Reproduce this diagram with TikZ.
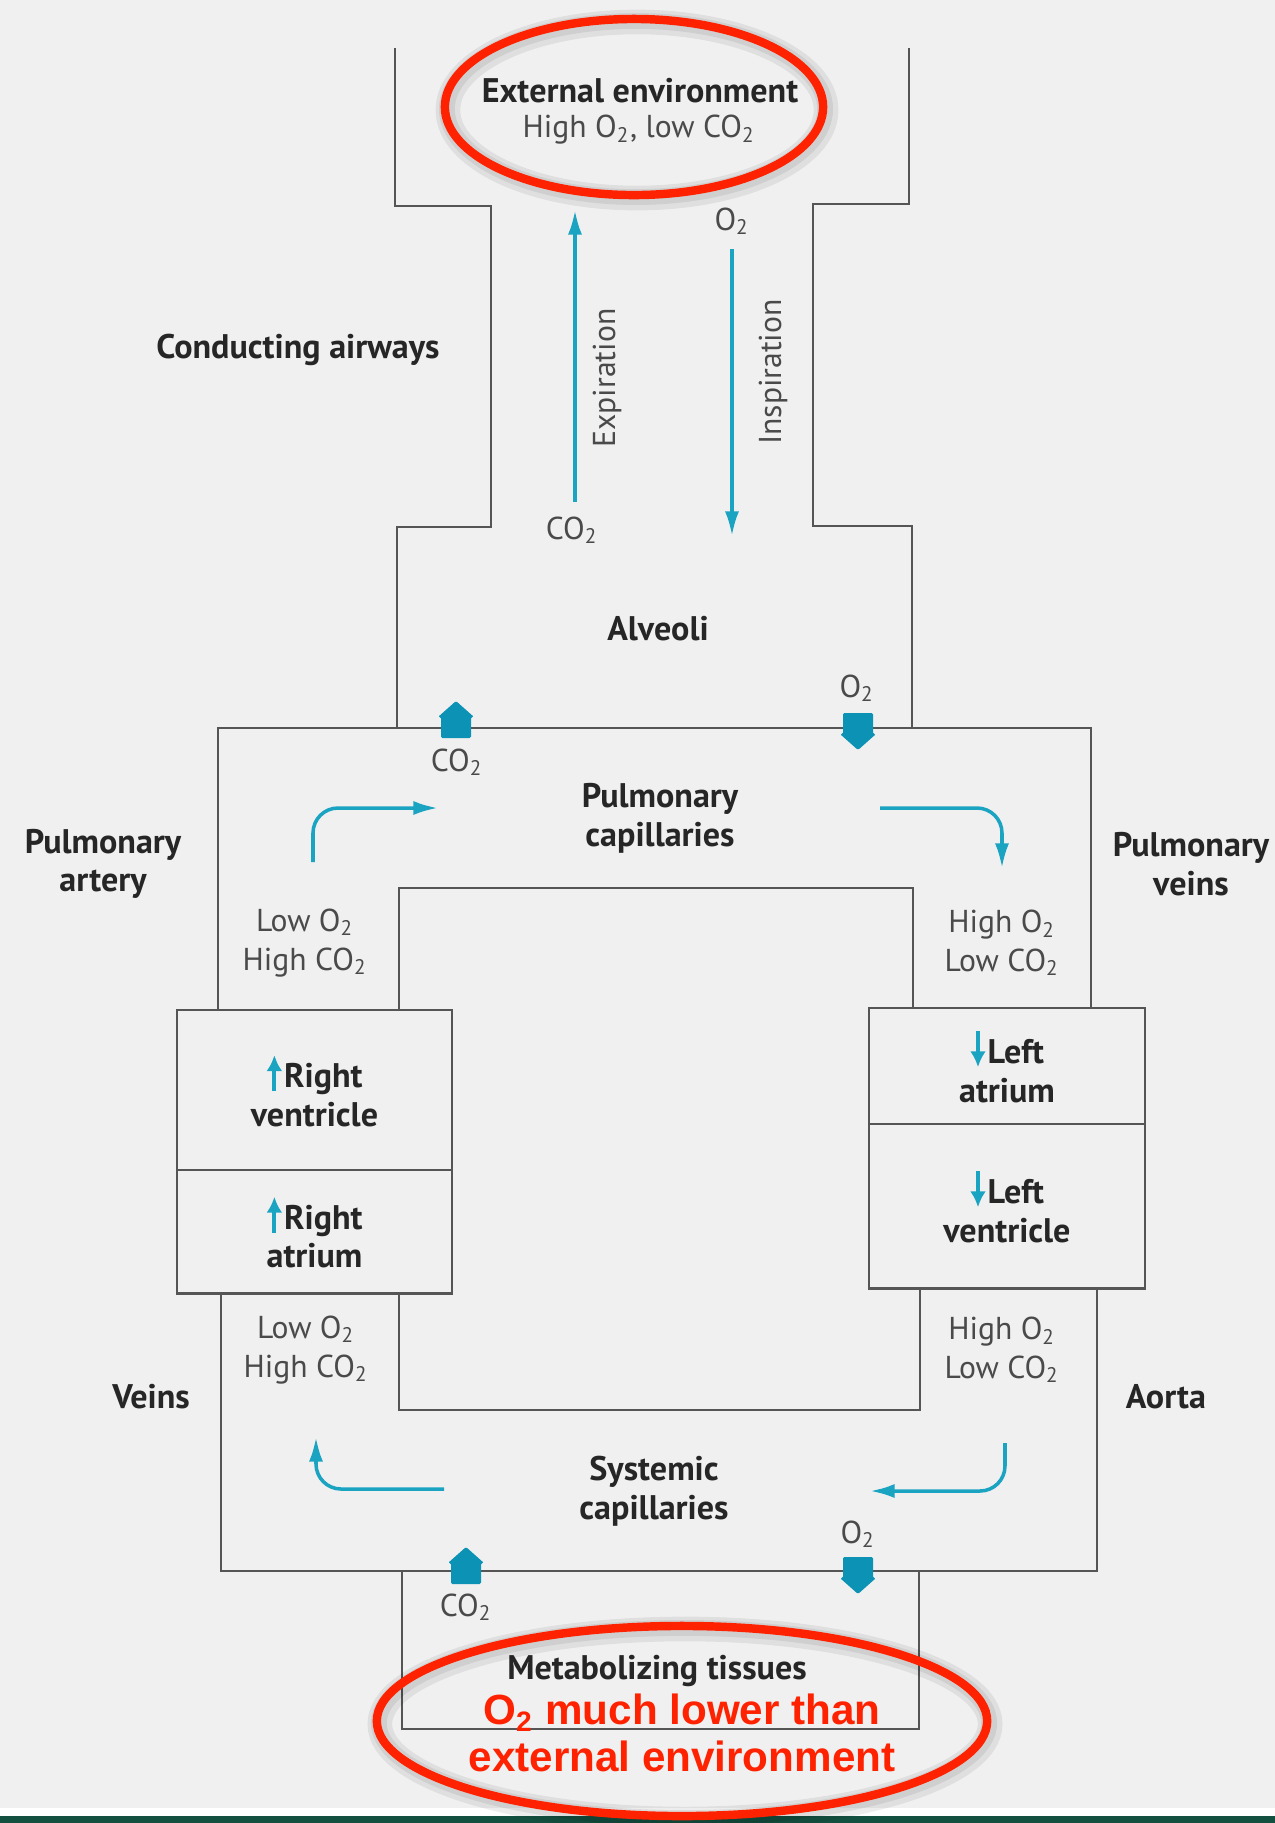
\documentclass[tikz,border=0pt]{standalone}
\usepackage{fontspec}
\setmainfont{PT Sans}
\newfontfamily\notefont{Liberation Sans}
\usetikzlibrary{positioning, arrows.meta}
\definecolor{paper}{HTML}{F0F0F0}
\definecolor{wallgray}{HTML}{555555}
\definecolor{flowcyan}{HTML}{1BA3C2}
\definecolor{gascyan}{HTML}{0C92B5}
\definecolor{ringred}{HTML}{FF2200}
\definecolor{bandgreen}{HTML}{145040}
\definecolor{darktext}{HTML}{262626}
\definecolor{softtext}{HTML}{4A4A4A}
\newcommand{\otwo}{O\textsubscript{2}}
\newcommand{\cotwo}{CO\textsubscript{2}}
\newcommand{\flowup}{\tikz[baseline=0pt,x=1pt,y=1pt]\draw[draw=flowcyan,line width=1.1pt,-{Latex[length=4.5pt,width=4.5pt]}] (0,-1)--(0,9.2);\hspace{0.5pt}}
\newcommand{\flowdown}{\tikz[baseline=0pt,x=1pt,y=1pt]\draw[draw=flowcyan,line width=1.1pt,-{Latex[length=4.5pt,width=4.5pt]}] (0,9.2)--(0,-1);\hspace{0.5pt}}
\tikzset{
	wall/.style={draw=wallgray, line width=0.8pt},
	chamber/.style={
		wall,
		align=center,
		inner sep=0pt,
		outer sep=0pt,
		font=\fontsize{9.7}{11}\selectfont\bfseries,
		text=darktext,
	},
	flow/.style={draw=flowcyan, line width=1pt, -{Latex[length=7pt,width=4pt]}},
	bloodflow/.style={flow, rounded corners=2.5mm},
	title/.style={
		align=center,
		inner sep=0pt,
		font=\fontsize{9.7}{11}\selectfont\bfseries,
		text=darktext,
	},
	gas/.style={
		align=center,
		inner sep=0pt,
		font=\fontsize{9}{11}\selectfont,
		text=softtext,
	},
	ring/.style={draw=ringred, line width=2.4pt},
	ringshadow/.style={draw=black, opacity=0.07},
	note/.style={
		align=center,
		inner sep=0pt,
		font=\notefont\fontsize{12}{13.2}\selectfont\bfseries,
		text=ringred,
	},
	gasup/.pic={
		\fill[gascyan, rounded corners=0.4pt] (-15,18) -- (-15,-3) -- (-18,-3) -- (0,-19) -- (18,-3) -- (15,-3) -- (15,18) -- cycle;
	},
	gasdown/.pic={
		\fill[gascyan, rounded corners=0.4pt] (-15,-18) -- (-15,3) -- (-18,3) -- (0,19) -- (18,3) -- (15,3) -- (15,-18) -- cycle;
	},
}

\begin{document}
\begin{tikzpicture}[x=0.01cm, y=-0.01cm]

\fill[paper] (0,0) rectangle (1275,1823);
\useasboundingbox (0,0) rectangle (1275,1823);

% airways and alveoli
\draw[wall] (395,48) -- (395,206) -- (491,206) -- (491,527) -- (397,527) -- (397,728);
\draw[wall] (909,48) -- (909,204) -- (813,204) -- (813,526) -- (912,526) -- (912,728);

% heart chambers
\node(rv)[chamber, minimum width=2.75cm, minimum height=1.6cm] at (314.5,1090) {\flowup Right\\ventricle};
\node(ra)[chamber, minimum width=2.75cm, minimum height=1.23cm, below=0pt of rv] {\flowup Right\\atrium};
\node(la)[chamber, minimum width=2.76cm, minimum height=1.16cm] at (1007,1066) {\flowdown Left\\atrium};
\node(lv)[chamber, minimum width=2.76cm, minimum height=1.64cm, below=0pt of la] {\flowdown Left\\ventricle};

% pulmonary loop
\draw[wall] (218,1010) -- (218,728) -- (1091,728) -- (1091,1008);
\draw[wall] (399,1010) -- (399,888) -- (913,888) -- (913,1008);

% systemic loop
\draw[wall] (221,1293) -- (221,1571) -- (1097,1571) -- (1097,1288);
\draw[wall] (399,1293) -- (399,1410) -- (920,1410) -- (920,1288);

% metabolizing tissues
\draw[wall] (402,1571) -- (402,1729) -- (919,1729) -- (919,1571);

% labels
\node(ext)[title] at (640,91) {External environment};
\node(extgas)[gas] at (639,130) {High \otwo, low \cotwo};
\node(airway)[title] at (298,350) {Conducting airways};
\node(co2out)[gas] at (572,530) {\cotwo};
\node(o2in)[gas] at (732,221) {\otwo};
\node(expir)[gas, rotate=90] at (607,378) {Expiration};
\node(inspir)[gas, rotate=90] at (773,372) {Inspiration};
\node(alv)[title] at (658,629) {Alveoli};
\node(o2alv)[gas] at (857,688) {\otwo};
\node(co2alv)[gas] at (457,762) {\cotwo};
\node(pcap)[title] at (660,818) {Pulmonary\\capillaries};
\node(partery)[title] at (103,864) {Pulmonary\\artery};
\node(pveins)[title] at (1191,864) {Pulmonary\\veins};
\node(lowtop)[gas] at (305,943) {Low \otwo\\High \cotwo};
\node(hightop)[gas] at (1002,943) {High \otwo\\Low \cotwo};
\node(lowbot)[gas] at (306,1350) {Low \otwo\\High \cotwo};
\node(highbot)[gas] at (1002,1350) {High \otwo\\Low \cotwo};
\node(veins)[title] at (151,1397) {Veins};
\node(aorta)[title] at (1166,1397) {Aorta};
\node(scap)[title] at (654,1491) {Systemic\\capillaries};
\node(o2tis)[gas] at (858,1534) {\otwo};
\node(co2tis)[gas] at (466,1607) {\cotwo};
\node(tissue)[title] at (657,1671) {Metabolizing tissues};

% breathing
\coordinate(exptip) at (575,210);
\coordinate(insptip) at (732,536);
\draw[flow] ([yshift=4pt]co2out.north -| exptip) -- (exptip);
\draw[flow] ([yshift=-4pt]o2in.south -| insptip) -- (insptip);

% gas exchange
\pic at (456,720) {gasup};
\pic at (858,731) {gasdown};
\pic at (466,1566) {gasup};
\pic at (858,1575) {gasdown};

% blood flow
\coordinate(pa) at (313,862);
\coordinate(pc1) at (438,808);
\coordinate(pc2) at (880,808);
\coordinate(pv) at (1002,868);
\coordinate(ao) at (1005,1443);
\coordinate(sc1) at (870,1491);
\coordinate(sc2) at (444,1489);
\coordinate(vn) at (316,1437);
\draw[bloodflow] (pa) |- (pc1);
\draw[bloodflow] (pc2) -| (pv);
\draw[bloodflow] (ao) |- (sc1);
\draw[bloodflow] (sc2) -| (vn);

% bottom band
\fill[white] (0,1808) rectangle (1275,1816);
\fill[bandgreen] (0,1816) rectangle (1275,1823);

% highlights
\foreach \w/\d in {7pt/3, 4.5pt/2}
	\draw[ringshadow, line width=\w] (634+\d,107+\d) ellipse [x radius=1.89cm, y radius=0.88cm];
\draw[ring] (634,107) ellipse [x radius=1.89cm, y radius=0.88cm];
\foreach \w/\d in {7pt/3, 4.5pt/2}
	\draw[ringshadow, line width=\w] (682+\d,1721+\d) ellipse [x radius=3.05cm, y radius=0.95cm];
\draw[ring] (682,1721) ellipse [x radius=3.05cm, y radius=0.95cm];
\node(lower)[note] at (682,1733) {\otwo\ much lower than\\external environment};

\end{tikzpicture}
\end{document}
